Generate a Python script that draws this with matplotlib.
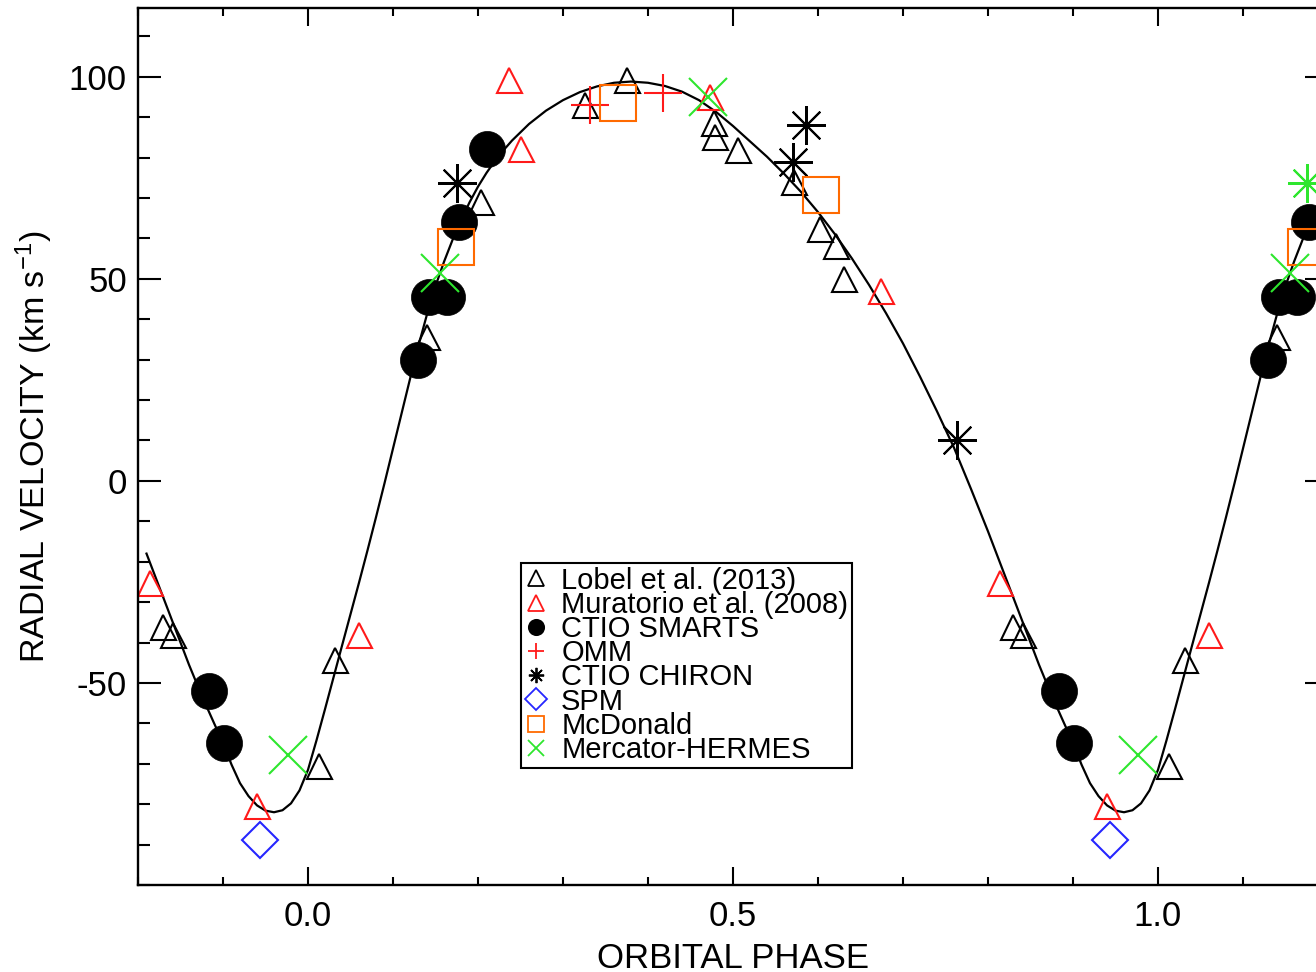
import numpy as np
import matplotlib.pyplot as plt
from matplotlib.ticker import MultipleLocator, FixedFormatter, FixedLocator

plt.rcParams['font.family'] = ['Liberation Sans', 'DejaVu Sans']
plt.rcParams['mathtext.default'] = 'regular'
plt.rcParams['axes.unicode_minus'] = False

# orbit solution, one cycle
curve_phase = [0.00, 0.01, 0.02, 0.03, 0.04, 0.05, 0.06, 0.07, 0.08, 0.09,
               0.10, 0.11, 0.12, 0.13, 0.14, 0.15, 0.16, 0.17, 0.18, 0.19,
               0.20, 0.21, 0.22, 0.23, 0.24, 0.26, 0.28, 0.30, 0.32, 0.34,
               0.36, 0.38, 0.40, 0.42, 0.44, 0.46, 0.48, 0.50, 0.52, 0.54,
               0.56, 0.58, 0.60, 0.62, 0.64, 0.66, 0.68, 0.70, 0.72, 0.74,
               0.76, 0.78, 0.80, 0.81, 0.82, 0.83, 0.84, 0.85, 0.86, 0.87,
               0.88, 0.89, 0.90, 0.91, 0.92, 0.93, 0.94, 0.95, 0.96, 0.97,
               0.98, 0.99]
curve_rv = [-71.5, -64.2, -56.5, -48.6, -40.8, -33.0, -25.2, -17.2, -9.0, -0.6,
            8.0, 16.6, 25.2, 33.5, 41.2, 48.2, 54.2, 59.6, 64.5, 68.9,
            72.8, 76.2, 79.2, 81.8, 84.2, 88.3, 91.6, 94.2, 96.2, 97.6,
            98.5, 98.8, 98.5, 97.7, 96.3, 94.2, 91.3, 87.8, 84.0, 80.2,
            76.0, 71.5, 66.5, 61.0, 55.0, 48.5, 41.5, 34.0, 25.8, 17.2,
            8.2, -2.0, -12.5, -18.0, -23.5, -29.0, -34.5, -40.0, -45.5, -50.6,
            -55.5, -60.2, -64.8, -70.2, -74.8, -78.0, -80.3, -81.6, -82.0, -81.5,
            -79.8, -76.6]
curve_start = -0.19

lobel_phase = [0.0126, 0.0318, 0.1396, 0.204, 0.3259, 0.3757, 0.4776, 0.479,
               0.506, 0.572, 0.6027, 0.6212, 0.630, 0.829, 0.841]
lobel_rv = [-70.5, -44.3, 35.7, 69.1, 93.1, 99.2, 88.5, 85.0,
            81.9, 73.9, 62.2, 58.0, 50.0, -36.2, -38.2]

murat_phase = [0.0596, 0.2369, 0.2502, 0.4725, 0.6737, 0.814, 0.9404]
murat_rv = [-38.2, 99.2, 82.1, 95.1, 47.0, -25.2, -80.4]

smarts_phase = [0.1298, 0.142, 0.163, 0.178, 0.211, 0.884, 0.901]
smarts_rv = [30.0, 45.6, 45.6, 64.0, 82.1, -52.1, -64.9]

omm_phase = [0.3318, 0.4173]
omm_rv = [93.1, 96.0]

chiron_phase = [0.1757, 0.570, 0.5859, 0.763]
chiron_rv = [73.8, 78.8, 88.1, 10.1]

spm_phase = [0.944]
spm_rv = [-88.9]

mcd_phase = [0.1747, 0.3643, 0.603]
mcd_rv = [57.9, 93.4, 70.8]

herm_phase = [0.1553, 0.471, 0.9765]
herm_rv = [51.4, 95.1, -67.8]


def unfold(ph, rv, shifts=(-1, 0, 1)):
    ph = np.asarray(ph, float)
    rv = np.asarray(rv, float)
    return np.concatenate([ph + s for s in shifts]), np.tile(rv, len(shifts))


RED = '#ff1a1a'
ORANGE = '#ff6a00'
GREEN = '#2ee62e'
BLUE = '#2626ff'

fig = plt.figure(figsize=(13.16, 9.72), dpi=100)
ax = fig.add_axes([138 / 1316, 87 / 972, 1190 / 1316, 877 / 972])

x, y = unfold(curve_phase, curve_rv)
keep = x >= curve_start - 1e-9
ax.plot(x[keep], y[keep], color='black', lw=1.6, zorder=1)

x, y = unfold(lobel_phase, lobel_rv)
ax.plot(x, y, ls='none', marker='^', ms=18, mfc='none', mec='black', mew=1.5,
        label='Lobel et al. (2013)')
x, y = unfold(murat_phase, murat_rv)
ax.plot(x, y, ls='none', marker='^', ms=18, mfc='none', mec=RED, mew=1.5,
        label='Muratorio et al. (2008)')
x, y = unfold(smarts_phase, smarts_rv)
ax.plot(x, y, ls='none', marker='o', ms=26, mfc='black', mec='black', mew=0.5,
        label='CTIO SMARTS')
x, y = unfold(omm_phase, omm_rv)
ax.plot(x, y, ls='none', marker='+', ms=27, mec=RED, mew=1.5, label='OMM')
x, y = unfold(chiron_phase, chiron_rv, shifts=(-1, 0))
ax.plot(x, y, ls='none', marker=(8, 2, 0), ms=28, mec='black', mew=1.5,
        label='CTIO CHIRON')
x, y = unfold(chiron_phase, chiron_rv, shifts=(1,))
ax.plot(x, y, ls='none', marker=(8, 2, 0), ms=28, mec=GREEN, mew=1.5)
x, y = unfold(spm_phase, spm_rv)
ax.plot(x, y, ls='none', marker='D', ms=18.5, mfc='none', mec=BLUE, mew=1.5,
        label='SPM')
x, y = unfold(mcd_phase, mcd_rv)
ax.plot(x, y, ls='none', marker='s', ms=26, mfc='none', mec=ORANGE, mew=1.5,
        label='McDonald')
x, y = unfold(herm_phase, herm_rv)
ax.plot(x, y, ls='none', marker='x', ms=28, mec=GREEN, mew=1.5,
        label='Mercator-HERMES')

ax.set_xlim(-0.2, 1.2)
ax.set_ylim(-100, 117)

ax.xaxis.set_major_locator(FixedLocator([0.0, 0.5, 1.0]))
ax.xaxis.set_major_formatter(FixedFormatter(['0.0', '0.5', '1.0']))
ax.xaxis.set_minor_locator(MultipleLocator(0.1))
ax.yaxis.set_major_locator(FixedLocator([-50, 0, 50, 100]))
ax.yaxis.set_minor_locator(MultipleLocator(10))

ax.tick_params(which='both', direction='in', top=True, right=True, width=1.5,
               labelsize=25, colors='black')
ax.tick_params(axis='x', which='major', length=12.7, pad=11)
ax.tick_params(axis='x', which='minor', length=6.1)
ax.tick_params(axis='y', which='major', length=16.6, pad=8)
ax.tick_params(axis='y', which='minor', length=8.6)
for s in ax.spines.values():
    s.set_linewidth(1.7)

ax.set_xlabel('ORBITAL PHASE', fontsize=25, labelpad=6)
ax.set_ylabel('RADIAL VELOCITY (km s$^{-1}$)', fontsize=24.5, labelpad=10)

leg = ax.legend(loc='upper left', bbox_to_anchor=(0.322, 0.367),
                borderaxespad=0, fontsize=21, frameon=True, fancybox=False,
                edgecolor='black', framealpha=1, borderpad=0.12,
                labelspacing=-0.13, handlelength=0.8, handletextpad=0.45)
leg.get_frame().set_linewidth(1.5)
for h in leg.legend_handles:
    h.set_markersize(11)
    h.set_markeredgewidth(1.3)

fig.savefig('out.png', dpi=100)
